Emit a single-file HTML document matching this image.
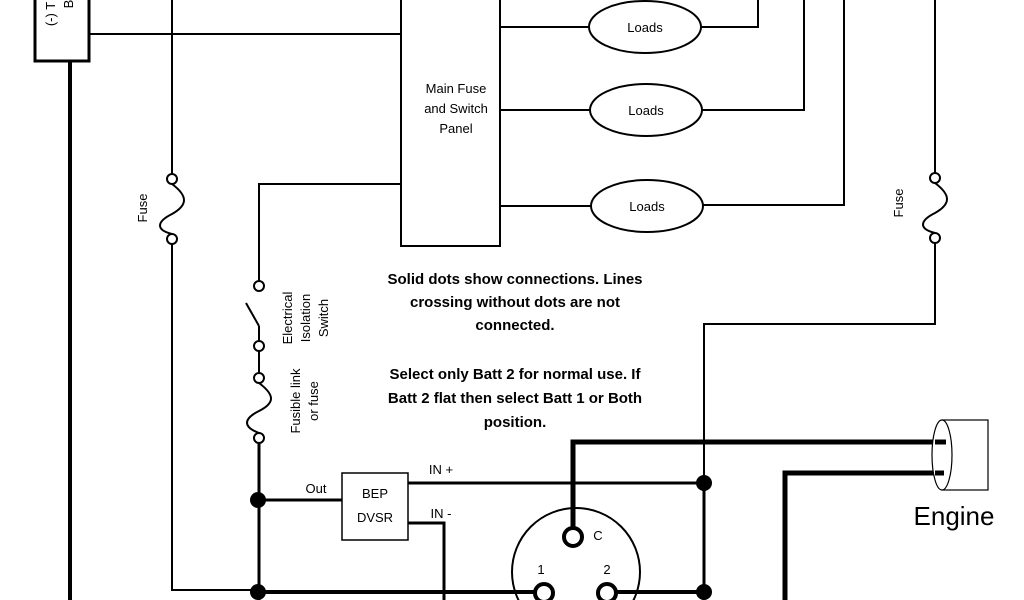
<!DOCTYPE html>
<html><head><meta charset="utf-8"><style>html,body{margin:0;background:#fff;width:1024px;height:600px;overflow:hidden}svg{display:block}text{font-family:"Liberation Sans",sans-serif}</style></head><body>
<svg width="1024" height="600" viewBox="0 0 1024 600" xmlns="http://www.w3.org/2000/svg">
<g fill="none" stroke="#000" stroke-width="2">
<rect x="35" y="-5" width="54" height="66" stroke-width="3"/>
<line x1="70" y1="61" x2="70" y2="600" stroke-width="4"/>
<line x1="89" y1="34" x2="400" y2="34"/>
<rect x="401" y="-5" width="99" height="251"/>
<line x1="172" y1="0" x2="172" y2="174"/>
<circle cx="172" cy="179" r="5" fill="#fff"/>
<path d="M172 184 C188 196,188 205,172 214 C156 222,156 230,172 234"/>
<circle cx="172" cy="239" r="5" fill="#fff"/>
<polyline points="172,244 172,590 258,590"/>
<line x1="500" y1="27" x2="589" y2="27"/>
<line x1="500" y1="110" x2="590" y2="110"/>
<line x1="500" y1="206" x2="591" y2="206"/>
<ellipse cx="645" cy="27" rx="56" ry="26"/>
<ellipse cx="646" cy="110" rx="56" ry="26"/>
<ellipse cx="647" cy="206" rx="56" ry="26"/>
<polyline points="701,27 758,27 758,0"/>
<polyline points="702,110 804,110 804,0"/>
<polyline points="703,205 844,205 844,0"/>
<line x1="935" y1="0" x2="935" y2="173"/>
<circle cx="935" cy="178" r="5" fill="#fff"/>
<path d="M935 183 C951 195,951 204,935 213 C919 221,919 229,935 233"/>
<circle cx="935" cy="238" r="5" fill="#fff"/>
<polyline points="935,243 935,324 704,324 704,600"/>
<polyline points="400,184 259,184 259,281"/>
<circle cx="259" cy="286" r="5" fill="#fff"/>
<line x1="246" y1="303" x2="259" y2="326"/>
<line x1="259" y1="326" x2="259" y2="341"/>
<circle cx="259" cy="346" r="5" fill="#fff"/>
<line x1="259" y1="351" x2="259" y2="373"/>
<circle cx="259" cy="378" r="5" fill="#fff"/>
<path d="M259 383 C275 395,275 403,259 411 C243 419,243 427,259 433"/>
<circle cx="259" cy="438" r="5" fill="#fff"/>
<line x1="259" y1="443" x2="259" y2="600" stroke-width="3"/>
<line x1="259" y1="500" x2="342" y2="500" stroke-width="3"/>
<rect x="342" y="473" width="66" height="67" stroke-width="1.5"/>
<line x1="408" y1="483" x2="704" y2="483" stroke-width="3"/>
<polyline points="408,523 444,523 444,600" stroke-width="3"/>
<line x1="704" y1="483" x2="704" y2="600" stroke-width="3"/>
<line x1="258" y1="592" x2="538" y2="592" stroke-width="4"/>
<line x1="612" y1="592" x2="704" y2="592" stroke-width="4"/>
<circle cx="576" cy="572" r="64"/>
<polyline points="573,530 573,442 945,442" stroke-width="5"/>
<circle cx="573" cy="537" r="9" stroke-width="4" fill="#fff"/>
<circle cx="544" cy="593" r="9" stroke-width="4" fill="#fff"/>
<circle cx="607" cy="593" r="9" stroke-width="4" fill="#fff"/>
<polyline points="785,600 785,473 945,473" stroke-width="5"/>
<rect x="942" y="420" width="46" height="70" stroke-width="1.2"/>
<ellipse cx="942" cy="455" rx="10" ry="35" stroke-width="1.2" fill="#fff"/>
<line x1="935" y1="442" x2="946" y2="442" stroke-width="5"/>
<line x1="935" y1="473" x2="944" y2="473" stroke-width="5"/>
</g>
<g fill="#000">
<circle cx="258" cy="500" r="8"/><circle cx="258" cy="592" r="8"/>
<circle cx="704" cy="483" r="8"/><circle cx="704" cy="592" r="8"/>
</g>
<g font-size="13" text-anchor="middle">
<text x="456" y="93">Main Fuse</text><text x="456" y="113">and Switch</text><text x="456" y="133">Panel</text>
<text x="645" y="32">Loads</text><text x="646" y="115">Loads</text><text x="647" y="211">Loads</text>
<text x="375" y="498">BEP</text><text x="375" y="522">DVSR</text>
<text x="316" y="493">Out</text><text x="441" y="474">IN +</text><text x="441" y="518">IN -</text>
<text x="598" y="540">C</text><text x="541" y="574">1</text><text x="607" y="574">2</text>
<text transform="translate(147,208) rotate(-90)">Fuse</text>
<text transform="translate(903,203) rotate(-90)">Fuse</text>
<text transform="translate(292,318) rotate(-90)">Electrical</text>
<text transform="translate(310,318) rotate(-90)">Isolation</text>
<text transform="translate(328,318) rotate(-90)">Switch</text>
<text transform="translate(300,401) rotate(-90)">Fusible link</text>
<text transform="translate(318,401) rotate(-90)">or fuse</text>
<text transform="translate(55,14) rotate(-90)">(-) T</text>
<text transform="translate(73,4) rotate(-90)">B</text>
</g>
<g font-size="15" font-weight="bold" text-anchor="middle">
<text x="515" y="284">Solid dots show connections. Lines</text>
<text x="515" y="307">crossing without dots are not</text>
<text x="515" y="330">connected.</text>
<text x="515" y="379">Select only Batt 2 for normal use. If</text>
<text x="515" y="403">Batt 2 flat then select Batt 1 or Both</text>
<text x="515" y="427">position.</text>
</g>
<text x="954" y="525" font-size="26" text-anchor="middle">Engine</text>
</svg>
</body></html>
